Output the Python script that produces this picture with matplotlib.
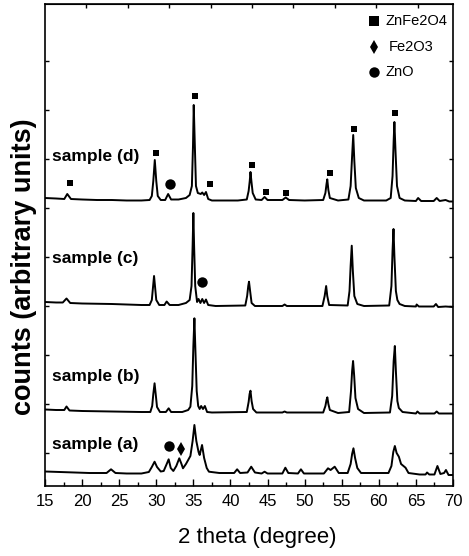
import numpy as np
import matplotlib.pyplot as plt

plt.rcParams['font.family'] = ['Liberation Sans', 'DejaVu Sans']

# XRD traces: 2theta (degree) and counts (arbitrary units, already offset)
d_x = [15.0, 16.5, 17.6, 18.0, 18.5, 20.0, 22.0, 24.0, 26.0, 28.0, 29.1, 29.4, 29.6, 29.8, 30.0, 30.2, 30.6,
       31.2, 31.6, 32.0, 33.0, 34.0, 34.5, 34.8, 34.95, 35.05, 35.2, 35.35, 35.6, 36.0, 36.2, 36.45, 36.7, 37.0,
       37.5, 39.0, 41.0, 42.2, 42.45, 42.6, 42.7, 42.85, 43.0, 43.4, 44.2, 44.6, 45.0, 47.0, 47.45, 47.9, 50.0,
       52.5, 52.8, 52.95, 53.05, 53.2, 53.4, 54.5, 55.9, 56.2, 56.4, 56.55, 56.7, 56.9, 57.3, 58.0, 61.0, 61.6,
       61.85, 62.0, 62.1, 62.25, 62.45, 62.8, 63.5, 65.0, 65.3, 65.7, 67.4, 67.8, 68.2, 69.0, 69.5, 70.0]
d_y = [288, 287.5, 287, 292, 287, 286.5, 286, 286, 285.5, 285.5, 286, 290, 305, 326, 305, 290, 286,
       286, 292, 286.5, 286.5, 288, 291, 300, 340, 381, 340, 300, 293, 292, 293.5, 291, 294, 287,
       285.5, 285.5, 285.5, 286.5, 295, 305, 314, 303, 293, 286.5, 286, 289, 286, 286, 288.5, 286, 285.5,
       286, 293, 302, 306.7, 296, 288, 285.5, 286.5, 300, 330, 351, 325, 298, 288, 285.5, 285.5, 288,
       310, 345, 364, 335, 300, 288, 285.5, 285, 288, 285, 285, 288, 285, 286, 284.5, 284.5]

c_x = [15.0, 16.5, 17.4, 17.9, 18.4, 20.0, 24.0, 28.0, 29.1, 29.4, 29.55, 29.7, 29.85, 30.0, 30.4, 31.1,
       31.4, 31.8, 33.0, 34.0, 34.5, 34.75, 34.9, 35.0, 35.1, 35.25, 35.5, 35.7, 35.95, 36.2, 36.45, 36.7,
       37.0, 38.0, 42.0, 42.25, 42.4, 42.5, 42.65, 42.85, 43.3, 47.0, 47.3, 47.6, 52.4, 52.7, 52.9, 53.05,
       53.3, 55.8, 56.05, 56.2, 56.35, 56.5, 56.7, 57.1, 58.0, 61.4, 61.7, 61.85, 61.98, 62.1, 62.3, 62.5,
       62.8, 63.5, 65.0, 65.1, 65.4, 67.4, 67.7, 68.0, 69.0, 70.0]
c_y = [184, 183.5, 183.5, 187.5, 183, 182.5, 182, 181, 181, 186, 198, 210, 198, 186, 181, 181,
       184.5, 181, 181, 183, 186, 200, 240, 273, 240, 200, 184, 187, 183, 187, 183, 186.5,
       181, 180, 180.5, 190, 200, 204.3, 195, 183, 180, 180, 181.5, 180, 180, 190, 200, 190,
       181, 180.5, 195, 220, 240.3, 215, 190, 182, 180, 180.5, 200, 235, 257, 230, 195, 186,
       182, 180, 179.5, 181.5, 179.5, 179.5, 182, 179, 179.5, 179]

b_x = [15.0, 16.5, 17.6, 17.9, 18.3, 20.0, 24.0, 28.0, 29.2, 29.45, 29.6, 29.77, 29.95, 30.1, 30.5, 31.3,
       31.67, 32.0, 33.5, 34.3, 34.6, 34.85, 35.0, 35.14, 35.3, 35.45, 35.65, 35.85, 36.05, 36.3, 36.55,
       36.85, 37.5, 42.2, 42.45, 42.58, 42.7, 42.85, 43.05, 43.5, 47.0, 47.3, 47.6, 52.5, 52.8, 52.95, 53.06,
       53.2, 53.4, 54.5, 56.0, 56.25, 56.4, 56.53, 56.68, 56.85, 57.2, 58.0, 61.5, 61.8, 62.0, 62.16, 62.3,
       62.5, 62.7, 63.2, 65.0, 65.2, 65.5, 67.5, 67.8, 68.1, 70.0]
b_y = [76.5, 76, 76, 79.5, 75.5, 75, 74.5, 74, 74, 80, 92, 102.7, 90, 79, 74, 74,
       77.7, 74, 74, 76, 79.3, 100, 140, 167.7, 130, 95, 80, 77, 80, 77, 80,
       74, 73.5, 74, 84, 92, 95.3, 85, 77, 73.5, 73.5, 74.5, 73.5, 73.5, 80, 86, 88.7,
       82, 76, 73, 74, 95, 115, 125, 110, 88, 77, 73, 73.5, 90, 125, 140, 115,
       85, 78, 74, 72.5, 74.5, 72.5, 72.5, 74.5, 72.5, 72.5]

a_x = [15.0, 17.0, 19.0, 21.0, 23.3, 23.9, 24.5, 26.0, 28.0, 29.0, 29.4, 29.77, 30.1, 30.6, 31.0, 31.35,
       31.67, 31.95, 32.3, 32.7, 33.1, 33.4, 33.6, 34.0, 34.3, 34.6, 34.9, 35.14, 35.4, 35.7, 35.85, 36.17,
       36.45, 36.8, 37.1, 38.5, 40.5, 40.9, 41.3, 42.3, 42.8, 43.3, 44.2, 44.6, 45.0, 47.0, 47.4, 47.8,
       49.1, 49.5, 49.9, 52.6, 53.15, 53.5, 54.05, 54.6, 55.8, 56.2, 56.4, 56.58, 56.8, 57.1, 57.6, 61.3,
       61.7, 61.95, 62.16, 62.4, 62.7, 63.0, 63.6, 64.0, 65.5, 66.3, 66.5, 66.8, 67.5, 67.9, 68.3, 68.8,
       69.05, 69.4, 70.0]
a_y = [14.5, 14, 13.5, 13, 13, 16.7, 13, 12.5, 12.5, 14, 19, 24.3, 19, 14.5, 15, 21,
       26.7, 18, 15, 20, 27.7, 22, 17.7, 22, 26, 30, 45, 61, 45, 34, 31, 41,
       28, 18, 14.3, 13, 13, 16.7, 13, 13.5, 19.3, 13.5, 12.5, 14.3, 12.5, 12.5, 18.3, 13,
       12.5, 16.7, 12.5, 12.5, 17.7, 16, 19.3, 13, 13, 22, 32, 37.7, 28, 18, 13, 13,
       20, 34, 40, 33, 29.3, 22, 18.3, 13, 11.5, 11.5, 13.5, 11.5, 11.5, 20, 12, 13,
       16, 11, 11]

# phase markers (2theta, counts)
znfe2o4_x = [18.4, 30.0, 35.27, 37.2, 42.93, 44.73, 47.52, 53.38, 56.66, 62.16]
znfe2o4_y = [302.7, 332.7, 390, 301.7, 320.7, 293.7, 292.7, 312.7, 356.7, 372.7]
zno_x = [31.9, 36.18, 31.66]
zno_y = [302, 204.3, 40.3]
fe2o3_x = [33.34]
fe2o3_y = [37]

sample_names = ['sample (d)', 'sample (c)', 'sample (b)', 'sample (a)']
sample_label_y = [329.3, 228, 109.3, 41]

legend_names = ['ZnFe2O4', 'Fe2O3', 'ZnO']
legend_y = [465.3, 439.3, 414.3]

fig = plt.figure(figsize=(4.69, 5.56), dpi=100)
ax = fig.add_axes([45/469, 1 - 486/556, 408/469, 482/556])

for xs, ys in [(d_x, d_y), (c_x, c_y), (b_x, b_y), (a_x, a_y)]:
    ax.plot(xs, ys, color='black', lw=1.4, solid_joinstyle='round')

ax.plot(znfe2o4_x, znfe2o4_y, 's', color='black', ms=4.3, mew=0)
ax.plot(zno_x, zno_y, 'o', color='black', ms=7.5, mew=0)
ax.plot(fe2o3_x, fe2o3_y, 'd', color='black', ms=7.5, mew=0)

for name, yy in zip(sample_names, sample_label_y):
    ax.text(15.95, yy, name, fontsize=12.5, fontweight='bold', va='center', ha='left')

# legend drawn as markers + text
ax.plot([59.32], [legend_y[0]], 's', color='black', ms=7, mew=0)
ax.plot([59.32], [legend_y[1]], 'd', color='black', ms=7, mew=0)
ax.plot([59.32], [legend_y[2]], 'o', color='black', ms=7.5, mew=0)
ax.text(60.95, legend_y[0], legend_names[0], fontsize=10.5, va='center', ha='left')
ax.text(61.35, legend_y[1], legend_names[1], fontsize=10.5, va='center', ha='left')
ax.text(60.95, legend_y[2], legend_names[2], fontsize=10.5, va='center', ha='left')

ax.set_xlim(15, 70)
ax.set_ylim(0, 482)
ax.set_xticks(np.arange(15, 71, 5))
ax.set_xticks(np.arange(17.5, 70, 5), minor=True)
ax.set_yticks(np.arange(33, 430, 49))
ax.set_yticklabels([])
ax.tick_params(axis='x', which='major', direction='in', length=5, width=1, labelsize=12, pad=6)
ax.tick_params(axis='x', which='minor', direction='in', length=3, width=1)
ax.tick_params(axis='y', which='major', direction='in', length=3, width=1, left=True, right=True)

# top axis has its own tick spacing in the original
top = ax.secondary_xaxis('top')
top.set_xticks([15 + 5.58 * k for k in range(1, 10)])
top.set_xticklabels([])
top.tick_params(direction='in', length=3, width=1)

for s in ax.spines.values():
    s.set_linewidth(1.2)

ax.set_xlabel('2 theta (degree)', fontsize=16, labelpad=8)
ax.xaxis.set_label_coords(0.52, -0.085)
fig.text(24/469, 1 - 267/556, 'counts (arbitrary units)', rotation=90, fontsize=19.5,
         fontweight='bold', ha='center', va='center')

plt.savefig('out.png', dpi=100)
